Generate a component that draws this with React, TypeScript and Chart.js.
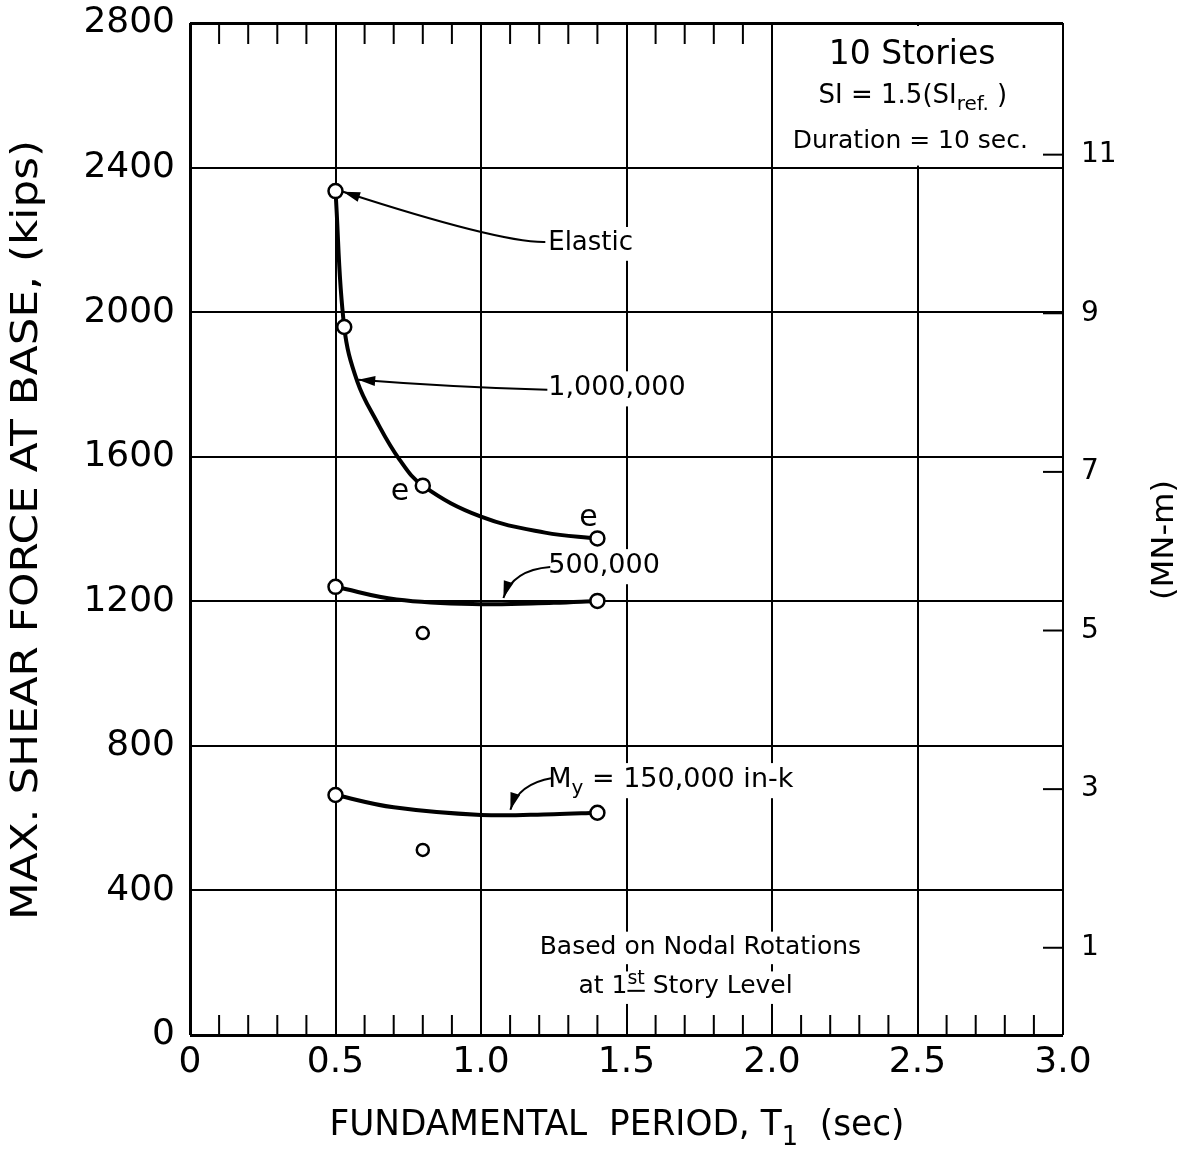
import React, { useEffect, useRef } from "react";
import { Chart, registerables } from "chart.js";

Chart.register(...registerables);

const FONT = '"DejaVu Sans", "Liberation Sans", sans-serif';

// ---- axis ticks ----
const xTickValues = [0, 0.5, 1.0, 1.5, 2.0, 2.5, 3.0];
const xTickLabels = ["0", "0.5", "1.0", "1.5", "2.0", "2.5", "3.0"];
const yTickValues = [0, 400, 800, 1200, 1600, 2000, 2400, 2800];
const y2TickValues = [1, 3, 5, 7, 9, 11];
const bottomMinorTicks = [0.1, 0.2, 0.3, 0.4, 0.6, 0.7, 0.8, 0.9, 1.1, 1.2, 1.3, 1.4, 1.6, 1.7, 1.8, 1.9, 2.1, 2.2, 2.3, 2.4, 2.6, 2.7, 2.8, 2.9];
const topMinorTicks = [0.1, 0.2, 0.3, 0.4, 0.6, 0.7, 0.8, 0.9, 1.1, 1.2, 1.3, 1.4, 1.6, 1.7, 1.8, 1.9];

// ---- data: period T (sec), base shear V (kips) ----
const elasticT = [0.5];
const elasticV = [2335];

const my1000kCircleT = [0.53, 0.8, 1.4];
const my1000kCircleV = [1959, 1520, 1374];
const my1000kCurveT = [0.5, 0.53, 0.575, 0.64, 0.72, 0.8, 1.0, 1.22, 1.4];
const my1000kCurveV = [2335, 1959, 1808, 1700, 1592, 1520, 1434, 1390, 1374];

const my500kCircleT = [0.5, 1.4];
const my500kCircleV = [1240, 1201];
const my500kCurveT = [0.5, 0.71, 1.0, 1.25, 1.4];
const my500kCurveV = [1240, 1205, 1192, 1196, 1201];

const my150kCircleT = [0.5, 1.4];
const my150kCircleV = [664, 615];
const my150kCurveT = [0.5, 0.7, 1.0, 1.25, 1.4];
const my150kCurveV = [664, 630, 609, 611, 615];

const looseT = [0.8, 0.8];
const looseV = [1112, 512];

const toPts = (t: number[], v: number[]) => t.map((x, i) => ({ x, y: v[i] }));

// ---- annotations (data coordinates) ----
type Seg = { t: string; sub?: boolean; sup?: boolean; underline?: boolean };
type Note = { x: number; y: number; size: number; align: "left" | "center"; box: boolean; segs: Seg[] };

const notes: Note[] = [
  { x: 2.195, y: 2709, size: 33, align: "left", box: false, segs: [{ t: "10 Stories" }] },
  { x: 2.16, y: 2598, size: 26, align: "left", box: false, segs: [{ t: "SI = 1.5(SI" }, { t: "ref.", sub: true }, { t: " )" }] },
  { x: 2.071, y: 2471, size: 25, align: "left", box: false, segs: [{ t: "Duration = 10 sec." }] },
  { x: 1.231, y: 2191, size: 26, align: "left", box: true, segs: [{ t: "Elastic" }] },
  { x: 1.231, y: 1790, size: 27, align: "left", box: true, segs: [{ t: "1,000,000" }] },
  { x: 1.231, y: 1298, size: 27, align: "left", box: true, segs: [{ t: "500,000" }] },
  { x: 1.231, y: 706, size: 27, align: "left", box: true, segs: [{ t: "M" }, { t: "y", sub: true }, { t: " = 150,000 in-k" }] },
  { x: 0.722, y: 1502, size: 30, align: "center", box: false, segs: [{ t: "e" }] },
  { x: 1.369, y: 1431, size: 30, align: "center", box: false, segs: [{ t: "e" }] },
  { x: 1.754, y: 243, size: 25, align: "center", box: true, segs: [{ t: "Based on Nodal Rotations" }] },
  { x: 1.703, y: 133, size: 25, align: "center", box: true, segs: [{ t: "at 1" }, { t: "st", sup: true, underline: true }, { t: " Story Level" }] },
];

const arrows = [
  { from: [1.221, 2194], ctrl: [1.07, 2191], to: [0.526, 2333] },
  { from: [1.228, 1785], ctrl: [0.894, 1793], to: [0.578, 1813] },
  { from: [1.238, 1295], ctrl: [1.108, 1287], to: [1.077, 1209] },
  { from: [1.245, 711], ctrl: [1.128, 695], to: [1.101, 623] },
];

function drawSegs(ctx: CanvasRenderingContext2D, segs: Seg[], x: number, y: number, size: number, align: string, box: boolean, target?: number) {
  const smallSize = Math.round(size * 0.75);
  const fontFor = (s: Seg) => `${s.sub || s.sup ? smallSize : size}px ${FONT}`;
  const widths = segs.map((s) => {
    ctx.font = fontFor(s);
    return ctx.measureText(s.t).width;
  });
  const natural = widths.reduce((a, b) => a + b, 0);
  const f = target ? target / natural : 1;
  const total = natural * f;
  const startX = align === "center" ? x - total / 2 : x;
  if (box) {
    ctx.fillStyle = "#fff";
    ctx.fillRect(startX - 5, y - size * 0.62, total + 10, size * 1.3);
  }
  ctx.save();
  ctx.translate(startX, y);
  ctx.scale(f, 1);
  ctx.fillStyle = "#000";
  ctx.strokeStyle = "#000";
  ctx.textBaseline = "middle";
  ctx.textAlign = "left";
  let sx = 0;
  segs.forEach((s, i) => {
    const small = s.sub || s.sup;
    const fs = small ? smallSize : size;
    ctx.font = fontFor(s);
    const dy = s.sub ? size * 0.32 : s.sup ? -size * 0.3 : 0;
    ctx.fillText(s.t, sx, dy);
    if (s.underline) {
      ctx.lineWidth = 2;
      ctx.beginPath();
      ctx.moveTo(sx, dy + fs * 0.6);
      ctx.lineTo(sx + widths[i], dy + fs * 0.6);
      ctx.stroke();
    }
    sx += widths[i];
  });
  ctx.restore();
}

const decor = {
  id: "decor",
  beforeDraw(chart: any) {
    const ctx = chart.ctx;
    ctx.save();
    ctx.fillStyle = "#fff";
    ctx.fillRect(0, 0, chart.width, chart.height);
    ctx.restore();
  },
  beforeDatasetsDraw(chart: any) {
    const { ctx, chartArea } = chart;
    const xs = chart.scales.x;
    const ys = chart.scales.y;
    const y2 = chart.scales.y2;
    ctx.save();
    ctx.strokeStyle = "#000";
    ctx.lineWidth = 2;
    bottomMinorTicks.forEach((v) => {
      const px = xs.getPixelForValue(v);
      ctx.beginPath();
      ctx.moveTo(px, chartArea.bottom);
      ctx.lineTo(px, chartArea.bottom - 20);
      ctx.stroke();
    });
    topMinorTicks.forEach((v) => {
      const px = xs.getPixelForValue(v);
      ctx.beginPath();
      ctx.moveTo(px, chartArea.top);
      ctx.lineTo(px, chartArea.top + 21);
      ctx.stroke();
    });
    // blank block behind the header text
    const bx0 = xs.getPixelForValue(2.0) + 2;
    const bx1 = xs.getPixelForValue(3.0) - 2;
    const by0 = ys.getPixelForValue(2800) + 3;
    const by1 = ys.getPixelForValue(2400) - 2;
    ctx.fillStyle = "#fff";
    ctx.fillRect(bx0, by0, bx1 - bx0, by1 - by0);
    // right axis ticks (inside)
    ctx.strokeStyle = "#000";
    ctx.lineWidth = 2;
    y2TickValues.forEach((v) => {
      const py = y2.getPixelForValue(v);
      ctx.beginPath();
      ctx.moveTo(chartArea.right - 20, py);
      ctx.lineTo(chartArea.right, py);
      ctx.stroke();
    });
    notes.forEach((n) => {
      drawSegs(ctx, n.segs, xs.getPixelForValue(n.x), ys.getPixelForValue(n.y), n.size, n.align, n.box);
    });
    ctx.restore();
  },
  afterDatasetsDraw(chart: any) {
    const { ctx } = chart;
    const xs = chart.scales.x;
    const ys = chart.scales.y;
    ctx.save();
    ctx.strokeStyle = "#000";
    ctx.fillStyle = "#000";
    ctx.lineWidth = 2;
    arrows.forEach((a) => {
      const fx = xs.getPixelForValue(a.from[0]);
      const fy = ys.getPixelForValue(a.from[1]);
      const cx = xs.getPixelForValue(a.ctrl[0]);
      const cy = ys.getPixelForValue(a.ctrl[1]);
      const tx = xs.getPixelForValue(a.to[0]);
      const ty = ys.getPixelForValue(a.to[1]);
      ctx.beginPath();
      ctx.moveTo(fx, fy);
      ctx.quadraticCurveTo(cx, cy, tx, ty);
      ctx.stroke();
      const ang = Math.atan2(ty - cy, tx - cx);
      const L = 17;
      const W = 5;
      ctx.beginPath();
      ctx.moveTo(tx, ty);
      ctx.lineTo(tx - L * Math.cos(ang) + W * Math.sin(ang), ty - L * Math.sin(ang) - W * Math.cos(ang));
      ctx.lineTo(tx - L * Math.cos(ang) - W * Math.sin(ang), ty - L * Math.sin(ang) + W * Math.cos(ang));
      ctx.closePath();
      ctx.fill();
    });
    ctx.restore();
  },
  afterDraw(chart: any) {
    const { ctx } = chart;
    ctx.save();
    // x title
    drawSegs(ctx, [{ t: "FUNDAMENTAL  PERIOD, T" }, { t: "1", sub: true }, { t: "  (sec)" }], 617, 1126, 36, "center", false, 575);
    // y title
    ctx.save();
    ctx.translate(27, 530);
    ctx.rotate(-Math.PI / 2);
    drawSegs(ctx, [{ t: "MAX. SHEAR FORCE AT BASE, (kips)" }], 0, 0, 38, "center", false, 780);
    ctx.restore();
    // right title
    ctx.save();
    ctx.translate(1165, 540);
    ctx.rotate(-Math.PI / 2);
    drawSegs(ctx, [{ t: "(MN-m)" }], 0, 0, 30, "center", false, 120);
    ctx.restore();
    ctx.restore();
  },
};

const circleStyle = {
  showLine: false,
  pointRadius: 7,
  pointBorderWidth: 2.5,
  pointBackgroundColor: "#fff",
  pointBorderColor: "#000",
};

const curveStyle = {
  showLine: true,
  pointRadius: 0,
  borderWidth: 4,
  borderColor: "#000",
  tension: 0.4,
};

export default function App() {
  const ref = useRef<HTMLCanvasElement | null>(null);
  useEffect(() => {
    if (!ref.current) return;
    const chart = new Chart(ref.current, {
      type: "scatter",
      data: {
        datasets: [
          { label: "Elastic", data: toPts(elasticT, elasticV), ...circleStyle } as any,
          { label: "1,000,000 pts", data: toPts(my1000kCircleT, my1000kCircleV), ...circleStyle } as any,
          { label: "500,000 pts", data: toPts(my500kCircleT, my500kCircleV), ...circleStyle } as any,
          { label: "150,000 pts", data: toPts(my150kCircleT, my150kCircleV), ...circleStyle } as any,
          { label: "other", data: toPts(looseT, looseV), ...circleStyle, pointRadius: 6 } as any,
          { label: "1,000,000", data: toPts(my1000kCurveT, my1000kCurveV), ...curveStyle } as any,
          { label: "500,000", data: toPts(my500kCurveT, my500kCurveV), ...curveStyle } as any,
          { label: "150,000", data: toPts(my150kCurveT, my150kCurveV), ...curveStyle } as any,
        ],
      },
      options: {
        responsive: false,
        animation: false,
        devicePixelRatio: 1,
        layout: { padding: { top: 23, left: 0, right: 0, bottom: 0 } },
        plugins: { legend: { display: false }, tooltip: { enabled: false } },
        scales: {
          x: {
            type: "linear",
            min: 0,
            max: 3,
            afterBuildTicks: (s: any) => {
              s.ticks = xTickValues.map((v) => ({ value: v }));
            },
            afterFit: (s: any) => {
              s.height = 117;
              s.paddingLeft = 0;
              s.paddingRight = 0;
            },
            ticks: {
              autoSkip: false,
              maxRotation: 0,
              padding: 6,
              color: "#000",
              font: { family: FONT, size: 36 },
              callback: (_v: any, i: number) => xTickLabels[i],
            },
            grid: {
              color: "#000",
              drawTicks: false,
              lineWidth: (c: any) => (c.tick && c.tick.value === 0 ? 3 : 2),
            },
            border: { display: false },
          },
          y: {
            type: "linear",
            min: 0,
            max: 2800,
            afterBuildTicks: (s: any) => {
              s.ticks = yTickValues.map((v) => ({ value: v }));
            },
            afterFit: (s: any) => {
              s.width = 190;
              s.paddingTop = 0;
              s.paddingBottom = 0;
            },
            ticks: {
              padding: 15,
              color: "#000",
              font: { family: FONT, size: 36 },
              callback: (v: any) => String(v),
            },
            grid: {
              color: "#000",
              drawTicks: false,
              lineWidth: (c: any) => (c.tick && (c.tick.value === 0 || c.tick.value === 2800) ? 3 : 2),
            },
            border: { display: false },
          },
          y2: {
            type: "linear",
            position: "right",
            min: -0.1,
            max: 12.66,
            afterBuildTicks: (s: any) => {
              s.ticks = y2TickValues.map((v) => ({ value: v }));
            },
            afterFit: (s: any) => {
              s.width = 130;
              s.paddingTop = 0;
              s.paddingBottom = 0;
            },
            ticks: {
              padding: 18,
              color: "#000",
              font: { family: FONT, size: 28 },
              callback: (v: any) => String(v),
            },
            grid: { display: false, drawTicks: false },
            border: { display: false },
          },
        },
      } as any,
      plugins: [decor as any],
    });
    return () => chart.destroy();
  }, []);
  return <canvas ref={ref} width={1193} height={1152} style={{ position: "absolute", left: 0, top: 0, display: "block" }} />;
}
